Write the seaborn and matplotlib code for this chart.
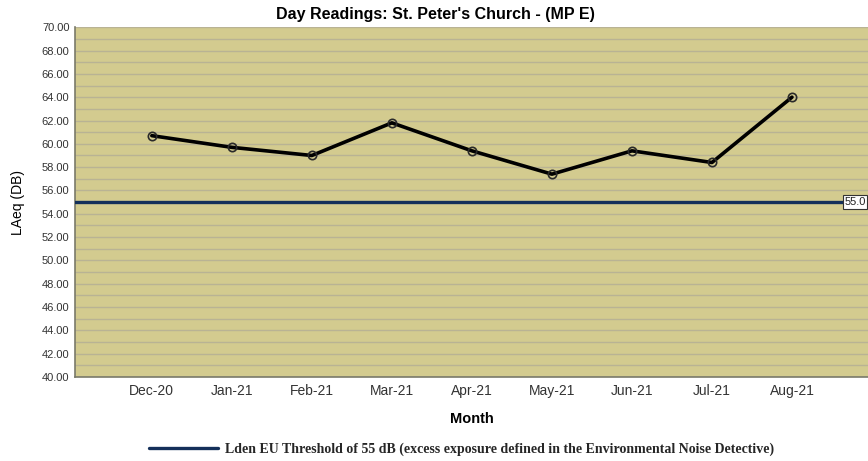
import pandas as pd
import matplotlib.pyplot as plt
import seaborn as sns
import numpy as np

months = ['Dec-20', 'Jan-21', 'Feb-21', 'Mar-21', 'Apr-21', 'May-21', 'Jun-21', 'Jul-21', 'Aug-21']
laeq = [60.7, 59.7, 59.0, 61.8, 59.4, 57.4, 59.4, 58.4, 64.0]
threshold = 55.0
yticks = np.arange(40, 71, 2)

data = pd.DataFrame({'Month': months, 'LAeq': laeq})

sns.set_style('white')
plt.rcParams['font.family'] = ['Liberation Sans', 'DejaVu Sans']

bg = "#D3CB8F"
grid = "#B9B394"
navy = "#14305A"

fgr = plt.figure(figsize=(8.68, 4.61), dpi=100)
ax = fgr.add_axes([0.0864, 0.182, 0.9136, 0.759])
ax.set_facecolor(bg)

sns.lineplot(x='Month', y='LAeq', data=data, ax=ax, color='black', linewidth=2.6,
             marker='o', markersize=6, markerfacecolor='none',
             markeredgecolor='#2a2a2a', markeredgewidth=1.2, zorder=4)

hline = ax.axhline(threshold, color=navy, linewidth=2.4, zorder=3)
# value box on the right edge of the plot
ax.text(0.997, threshold, '%.1f' % threshold, transform=ax.get_yaxis_transform(),
        ha='right', va='center', fontsize=8, color='#222222', zorder=5,
        bbox=dict(boxstyle='square,pad=0.15', facecolor='white', edgecolor='#333333', linewidth=0.8))

ax.set_ylim(40, 70)
ax.set_xlim(-0.96, 8.95)
ax.set_yticks(yticks)
ax.set_yticks(np.arange(41, 70, 2), minor=True)
ax.set_yticklabels(['%.2f' % v for v in yticks], fontsize=8, color='#333333')
ax.tick_params(axis='x', labelsize=10, labelcolor='#333333', length=0, pad=5)
ax.tick_params(axis='y', which='both', length=0, pad=4)
ax.grid(axis='y', which='both', color=grid, linewidth=1.0, zorder=0)
ax.set_axisbelow(True)

ax.spines['top'].set_visible(False)
ax.spines['right'].set_visible(False)
ax.spines['left'].set_color('#7a7a6a')
ax.spines['bottom'].set_color('#7a7a6a')
ax.spines['left'].set_linewidth(1.2)
ax.spines['bottom'].set_linewidth(1.2)

fgr.text(0.502, 0.969, "Day Readings: St. Peter's Church - (MP E)", ha='center', va='center',
         fontsize=11.5, fontweight='bold', color='black')
ax.set_xlabel('Month', fontsize=10.5, fontweight='bold', color='black', labelpad=10)
ax.set_ylabel('LAeq (DB)', fontsize=10, color='black', labelpad=12)

fgr.legend(handles=[hline],
           labels=['Lden EU Threshold of 55 dB (excess exposure defined in the Environmental Noise Detective)'],
           loc='center', bbox_to_anchor=(0.532, 0.026), frameon=False, handlelength=5.0,
           handletextpad=0.5,
           prop={'family': 'Liberation Serif', 'weight': 'bold', 'size': 10})

plt.savefig('out.png', dpi=100, facecolor='white')
